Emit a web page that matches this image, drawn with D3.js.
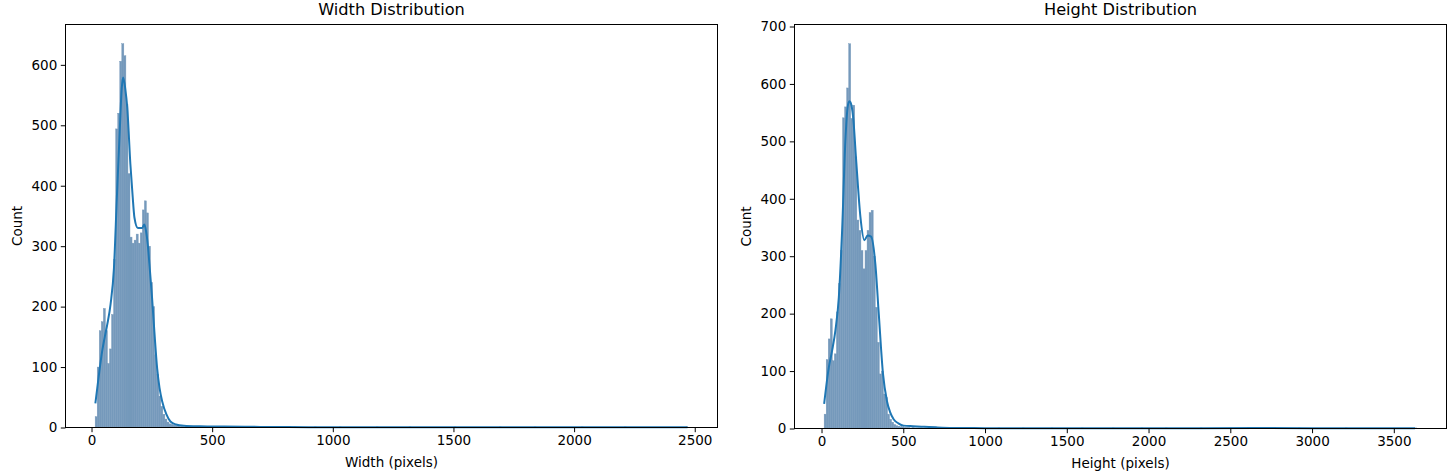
<!DOCTYPE html>
<html>
<head>
<meta charset="utf-8">
<script src="https://cdn.jsdelivr.net/npm/d3@7"></script>
<style>
  html, body { margin: 0; padding: 0; background: #fff; }
  svg { display: block; font-family: "DejaVu Sans", sans-serif; }
</style>
</head>
<body>
<svg id="chart" width="1456" height="471"></svg>
<script>
// Width histogram: first bin edge, bin width, counts per bin
const widthBinStart = 15;
const widthBinWidth = 8.5;
const widthCounts = [
  18, 100, 160, 175, 197, 160, 106, 130, 187, 278,
  494, 520, 606, 635, 615, 535, 420, 315, 305, 310,
  320, 305, 322, 360, 375, 355, 300, 240, 200, 120,
  88, 52, 35, 22, 14, 9, 6, 5, 4, 3,
  3, 2, 2, 1, 2, 1, 1, 1, 0, 1, 1
];
// sparse large widths beyond the main bins
const widthOutliers = [560, 610, 680, 760, 840, 930, 1030, 1180, 1320, 1510, 1690, 1840, 2030, 2210, 2470];
// KDE curve (value, scaled count)
const widthKdeX = [16, 30, 44, 55, 65, 79, 93, 105, 117, 125, 131, 140, 148, 161, 170, 178, 192, 210, 219, 226, 233, 242, 251, 262, 272, 282, 293, 310, 327, 350, 383, 450, 550, 700, 900, 1200, 1500, 1800, 2000, 2300, 2470];
const widthKdeY = [40, 85, 126, 150, 170, 204, 264, 380, 491, 560, 579, 560, 530, 436, 385, 347, 330, 330, 336, 325, 303, 260, 214, 150, 98, 65, 43, 22, 10, 5, 3, 2, 1.5, 1, 0.6, 0.4, 0.4, 0.5, 0.4, 0.3, 0.3];
const widthTicks = [0, 500, 1000, 1500, 2000, 2500];
const widthCountTicks = [0, 100, 200, 300, 400, 500, 600];

// Height histogram
const heightBinStart = 16;
const heightBinWidth = 12.5;
const heightCounts = [
  25, 120, 156, 191, 118, 130, 203, 252, 310, 541,
  560, 593, 670, 540, 563, 473, 363, 345, 310, 278,
  310, 345, 376, 380, 300, 211, 150, 95, 100, 60,
  54, 25, 16, 11, 7, 5, 4, 3, 3, 2,
  2, 2, 1, 2, 1, 1, 1, 1, 0, 1
];
const heightOutliers = [660, 720, 790, 860, 950, 1080, 1240, 1410, 1600, 1790, 1960, 2110, 2320, 2630, 2680, 2710, 2920, 3210, 3630];
const heightKdeX = [16, 45, 65, 85, 106, 126, 146, 160, 170, 177, 193, 213, 238, 262, 282, 303, 329, 350, 376, 400, 420, 441, 470, 502, 560, 630, 700, 800, 1000, 1400, 1800, 2200, 2650, 3000, 3400, 3630];
const heightKdeY = [43, 107, 136, 171, 229, 345, 502, 560, 570, 568, 543, 462, 368, 328, 336, 334, 287, 200, 95, 48, 28, 16, 9, 5, 4, 3, 2, 1, 0.6, 0.5, 0.5, 0.5, 0.8, 0.4, 0.4, 0.4];
const heightTicks = [0, 500, 1000, 1500, 2000, 2500, 3000, 3500];
const heightCountTicks = [0, 100, 200, 300, 400, 500, 600, 700];

const barFill = '#7599bb';
const lineColor = '#1f77b4';

const svg = d3.select('#chart');

/**
 * Builds the bins (main counts + sparse outliers on the same grid)
 */
function buildBins(start, bw, counts, outliers) {
  const byIndex = new Map();
  counts.forEach((c, i) => byIndex.set(i, c));
  outliers.forEach(v => {
    const i = Math.floor((v - start) / bw);
    byIndex.set(i, (byIndex.get(i) || 0) + 1);
  });
  return Array.from(byIndex, ([i, c]) => ({ x0: start + i * bw, x1: start + (i + 1) * bw, count: c }))
    .filter(d => d.count > 0);
}

function drawPanel(p) {
  const g = svg.append('g');
  const bins = buildBins(p.binStart, p.binWidth, p.counts, p.outliers);

  const dataMin = p.binStart;
  const dataMax = d3.max(bins, d => d.x1);
  const span = dataMax - dataMin;
  const x = d3.scaleLinear()
    .domain([dataMin - 0.05 * span, dataMax + 0.05 * span])
    .range([p.left, p.right]);
  const yMax = d3.max(bins, d => d.count) * 1.05;
  const y = d3.scaleLinear()
    .domain([0, yMax])
    .range([p.bottom, p.top]);

  // bars (stroke in fill colour closes antialias seams between neighbours)
  g.append('g')
    .selectAll('rect')
    .data(bins)
    .enter().append('rect')
    .attr('x', d => x(d.x0))
    .attr('width', d => Math.max(0, x(d.x1) - x(d.x0)))
    .attr('y', d => y(d.count))
    .attr('height', d => y(0) - y(d.count))
    .style('fill', barFill)
    .style('stroke', barFill)
    .style('stroke-width', 0.4);

  // kde line
  const kde = p.kdeX.map((v, i) => [v, p.kdeY[i]]);
  const line = d3.line()
    .x(d => x(d[0]))
    .y(d => y(d[1]))
    .curve(d3.curveMonotoneX);
  g.append('path')
    .datum(kde)
    .attr('d', line)
    .style('fill', 'none')
    .style('stroke', lineColor)
    .style('stroke-width', 2)
    .style('stroke-linejoin', 'round');

  // axes
  const xAxis = d3.axisBottom(x).tickValues(p.xTicks).tickSize(4.7).tickPadding(3.5).tickFormat(d3.format('d'));
  const yAxis = d3.axisLeft(y).tickValues(p.yTicks).tickSize(4.7).tickPadding(3.5).tickFormat(d3.format('d'));

  const gx = g.append('g')
    .attr('transform', `translate(0,${p.bottom})`)
    .call(xAxis);
  const gy = g.append('g')
    .attr('transform', `translate(${p.left},0)`)
    .call(yAxis);

  [gx, gy].forEach(a => {
    a.select('.domain').remove();
    a.selectAll('line').style('stroke', '#000').style('stroke-width', 1);
    a.selectAll('text')
      .style('font-family', '"DejaVu Sans", sans-serif')
      .style('font-size', '13.5px')
      .style('fill', '#000');
  });

  // frame
  g.append('rect')
    .attr('x', p.left)
    .attr('y', p.top)
    .attr('width', p.right - p.left)
    .attr('height', p.bottom - p.top)
    .style('fill', 'none')
    .style('stroke', '#000')
    .style('stroke-width', 1);

  // title and labels
  g.append('text')
    .attr('x', (p.left + p.right) / 2)
    .attr('y', p.top - 9.5)
    .attr('text-anchor', 'middle')
    .style('font-size', '16.2px')
    .text(p.title);

  g.append('text')
    .attr('x', (p.left + p.right) / 2)
    .attr('y', p.bottom + 39)
    .attr('text-anchor', 'middle')
    .style('font-size', '13.5px')
    .text(p.xLabel);

  g.append('text')
    .attr('transform', `translate(${p.yLabelX},${(p.top + p.bottom) / 2}) rotate(-90)`)
    .attr('text-anchor', 'middle')
    .style('font-size', '13.5px')
    .text('Count');
}

drawPanel({
  title: 'Width Distribution',
  xLabel: 'Width (pixels)',
  left: 65.5, right: 717.5, top: 24.5, bottom: 427.5, yLabelX: 22,
  binStart: widthBinStart, binWidth: widthBinWidth,
  counts: widthCounts, outliers: widthOutliers,
  kdeX: widthKdeX, kdeY: widthKdeY,
  xTicks: widthTicks, yTicks: widthCountTicks
});

drawPanel({
  title: 'Height Distribution',
  xLabel: 'Height (pixels)',
  left: 794.5, right: 1446.5, top: 24.5, bottom: 428.5, yLabelX: 751,
  binStart: heightBinStart, binWidth: heightBinWidth,
  counts: heightCounts, outliers: heightOutliers,
  kdeX: heightKdeX, kdeY: heightKdeY,
  xTicks: heightTicks, yTicks: heightCountTicks
});
</script>
</body>
</html>
